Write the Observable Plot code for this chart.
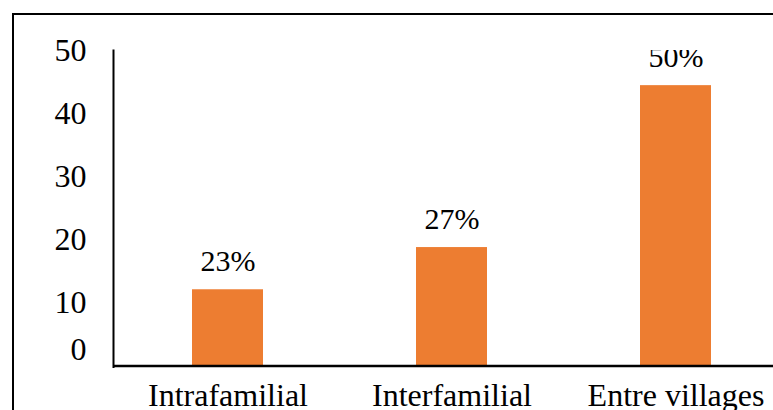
<!DOCTYPE html>
<html>
<head>
<meta charset="utf-8">
<script src="https://cdn.jsdelivr.net/npm/d3@7"></script>
<script src="https://cdn.jsdelivr.net/npm/@observablehq/plot@0.6"></script>
<style>
  html, body { margin: 0; padding: 0; background: #fff; overflow: hidden; width: 773px; height: 410px; }
  #wrap { position: relative; width: 773px; height: 410px; overflow: hidden; }
  #border { position: absolute; left: 12px; top: 13px; width: 800px; height: 500px;
            border-left: 2px solid #000; border-top: 2px solid #000; pointer-events: none; }
  svg { display: block; }
  svg, svg text { font-family: "Liberation Serif", "Times New Roman", serif !important; }
</style>
</head>
<body>
<div id="wrap"><div id="border"></div><div id="chart"></div></div>
<script>
const categories = ["Intrafamilial", "Interfamilial", "Entre villages"];
const values = [12.1, 18.8, 44.5];
const pctLabels = ["23%", "27%", "50%"];
const yTicks = [10, 20, 30, 40, 50];
const yZeroTick = [0];

const data = categories.map((c, i) => ({category: c, value: values[i], label: pctLabels[i]}));
const font = "Liberation Serif";

const chart = Plot.plot({
  width: 773,
  height: 410,
  marginLeft: 113,
  marginRight: 0,
  marginTop: 50,
  marginBottom: 43.5,
  style: {fontFamily: font, fontSize: "30px", color: "#000", background: "transparent", overflow: "hidden"},
  x: {domain: categories, range: [114, 788], paddingInner: 0.684, paddingOuter: 0.342, label: null},
  y: {domain: [0, 50], range: [365.5, 50.5], label: null},
  marks: [
    Plot.barY(data, {x: "category", y: "value", fill: "#ED7D31"}),
    Plot.text(data, {x: "category", y: "value", text: "label", lineAnchor: "bottom", dy: -19,
                     fontSize: 30, fontFamily: font, fill: "#000", clip: "frame"}),
    Plot.axisY({ticks: yTicks, tickSize: 0, tickPadding: 27, fontSize: 32, fontFamily: font, label: null, fill: "#000"}),
    Plot.axisY({ticks: yZeroTick, tickSize: 0, tickPadding: 27, fontSize: 32, fontFamily: font, label: null, dy: -16, fill: "#000"}),
    Plot.axisX({tickSize: 0, tickPadding: 16, fontSize: 32, fontFamily: font, label: null, fill: "#000"}),
    Plot.frame({anchor: "left", stroke: "#000", strokeWidth: 2, strokeOpacity: 1}),
    Plot.ruleY([0], {stroke: "#000", strokeWidth: 2.4})
  ]
});
document.getElementById("chart").appendChild(chart);
</script>
</body>
</html>
